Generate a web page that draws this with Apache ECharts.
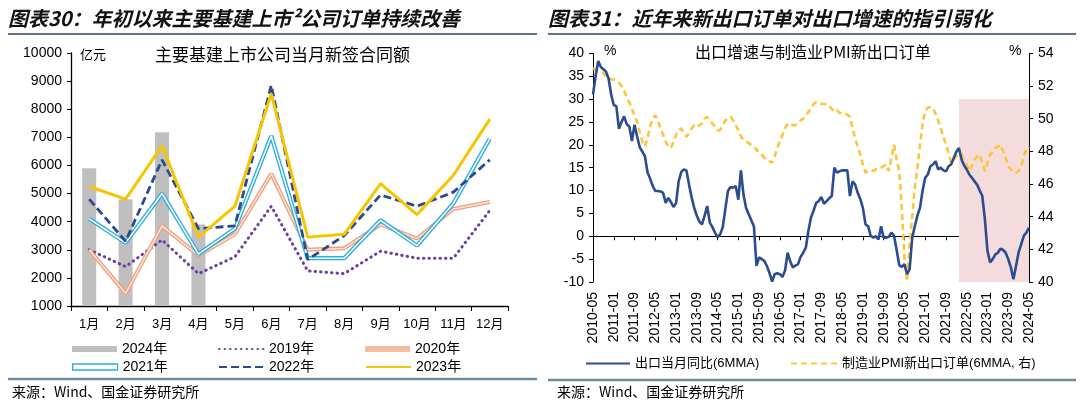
<!DOCTYPE html>
<html><head><meta charset="utf-8">
<script src="https://cdn.jsdelivr.net/npm/echarts@6/dist/echarts.min.js"></script>
<style>html,body{margin:0;padding:0;background:#fff}#c{width:1080px;height:403px}</style>
</head><body><div id="c"></div>
<script>
// ---------- left chart data ----------
const monthsCN = ['1月','2月','3月','4月','5月','6月','7月','8月','9月','10月','11月','12月'];
const y2024 = [5900, 4800, 7180, 3900, null, null, null, null, null, null, null, null];
const y2019 = [3000, 2400, 3350, 2150, 2750, 4550, 2250, 2150, 2950, 2700, 2700, 4400];
const y2020 = [3000, 1450, 3850, 2800, 3550, 5700, 3000, 3050, 3900, 3400, 4450, 4700];
const y2021 = [4100, 3250, 5000, 2850, 3750, 7050, 2700, 2700, 4050, 3150, 4650, 6950];
const y2022 = [4800, 3300, 6200, 3750, 3850, 8850, 2650, 3500, 4950, 4550, 5050, 6200];
const y2023 = [5250, 4800, 6700, 3450, 4550, 8550, 3450, 3550, 5350, 4250, 5650, 7650];
const leftYTicks = {min: 1000, max: 10000, interval: 1000};

// ---------- right chart data (monthly, 2010-05 .. 2024-05) ----------
const startYear = 2010, startMonth = 5, nMonths = 169;
const dates = [];
for (let i = 0; i < nMonths; i++) {
  const m = startMonth - 1 + i;
  const yy = startYear + Math.floor(m / 12), mm = (m % 12) + 1;
  dates.push(yy + '-' + (mm < 10 ? '0' + mm : mm));
}
const exportYoY = [
  31, 35, 38.3, 37, 36.5, 36, 34.5, 31, 28.7, 28.4,
  23.5, 25, 26.2, 24.5, 24, 20.8, 24.4, 21.8, 19.5, 18.5,
  17.5, 14, 12.6, 11, 9.9, 9.9, 9.8, 9.5, 7.3, 8.4,
  7.5, 6.4, 7.2, 12, 14, 14.6, 14.4, 11.3, 8.5, 6.2,
  4.5, 3.2, 2.6, 4.5, 6.6, 3, 2, 0.8, -0.2, 0.4,
  2, 6, 9.9, 10.8, 10.6, 11, 8, 14.4, 9, 6.2,
  4.8, 3.5, 2.2, -6.5, -4.6, -5, -5.4, -6.5, -8, -9.9,
  -8.3, -8.1, -8.3, -8.9, -7.5, -3.6, -5.5, -6.8, -6.4, -6.1,
  -4.5, -3.6, -2.5, 1.2, 4.1, 5.6, 7.3, 7.7, 8.6, 7.1,
  7.7, 8.3, 8.8, 15, 13.9, 14.2, 14.4, 14.4, 14.4, 8.8,
  12, 11.3, 9.5, 8.1, 6.2, 2.6, 2.2, 0.1, -0.3, 0,
  -0.7, 2.2, -0.4, -0.3, -0.1, 0.8, 0.1, -3, -6.3, -6.7,
  -6.1, -8.3, -7.2, -0.3, 2.2, 4.5, 6.2, 10, 12.8, 13.5,
  15.3, 15.7, 16.4, 14.6, 15, 14.4, 14.2, 15.3, 15.7, 17.1,
  18.5, 19.3, 16.8, 15.5, 14.6, 13.5, 12.8, 12, 11.3, 10,
  8.8, 3.7, -3.2, -5.7, -5, -4, -3.6, -2.7, -3, -3.6,
  -5, -6.8, -9.4, -6.5, -3.5, -1.7, 0.1, 0.8, 1.9
];
const pmiNewExport = [
  53.1, 53.0, 52.9, 52.85, 52.8, 52.6, 52.5, 52.4, 52.4, 52.3,
  52.2, 52.0, 51.7, 51.3, 51.0, 50.6, 50.2, 49.8, 49.2, 48.6,
  48.3, 48.8, 49.5, 50.0, 50.2, 49.9, 49.4, 49.0, 48.6, 48.3,
  48.2, 48.6, 49.0, 49.3, 49.4, 49.1, 48.9, 49.1, 49.4, 49.6,
  49.5, 49.6, 49.7, 50.0, 50.1, 49.9, 49.7, 49.5, 49.3, 49.3,
  49.6, 49.9, 50.0, 50.1, 49.9, 49.6, 49.3, 48.9, 48.7, 48.6,
  48.5, 48.4, 48.3, 48.1, 47.9, 47.8, 47.6, 47.5, 47.4, 47.3,
  47.7, 48.2, 48.6, 49.0, 49.4, 49.7, 49.7, 49.6, 49.6, 49.7,
  49.9, 50.0, 50.2, 50.4, 50.6, 50.9, 51.0, 50.95, 50.9, 50.9,
  50.87, 50.8, 50.6, 50.4, 50.5, 50.36, 50.3, 50.25, 50.25, 50.1,
  49.4, 48.8, 48.3, 47.8, 47.2, 46.7, 46.8, 46.8, 46.8, 46.9,
  46.9, 47.0, 47.1, 47.2, 46.8, 47.6, 48.4, 47.5, 46.8, 44.5,
  41.5, 40.05, 42.3, 44.0, 45.75, 47.0, 48.4, 49.7, 50.5, 50.66,
  50.7, 50.66, 50.3, 49.9, 49.4, 48.9, 48.4, 47.9, 47.3, 47.5,
  47.7, 47.8, 47.8, 47.4, 47.2, 46.8, 47.1, 47.5, 47.7, 47.8,
  47.3, 46.8, 47.3, 47.8, 48.0, 48.2, 48.3, 48.4, 48.0, 47.6,
  47.1, 46.9, 46.7, 46.7, 46.8, 47.1, 47.7, 48.1, 48.3
];
const shadeRange = ['2022-02', '2024-05'];
const shadeY = [-10, 30];

// ---------- styles ----------
const C = {
  bar: '#bfbfbf', p19: '#6b3fa0', s20: '#f0a07e', s20in: '#fbe3d6',
  c21: '#2aaee0', n22: '#2e4a8e', y23: '#f7c400',
  blue: '#2c4b90', yel: '#fcc53a', pink: '#f3dcdb'
};
const plainNum = v => String(v);
const axisTxt = {color: '#000', fontFamily: 'Liberation Sans, Arial, sans-serif', fontSize: 14};
const cjk = '"Noto Sans CJK SC", sans-serif';

const chart = echarts.init(document.getElementById('c'), null, {renderer: 'canvas'});

const legendBase = {
  itemWidth: 45, itemHeight: 6, itemGap: 4,
  textStyle: {color: '#000', fontSize: 14, fontFamily: 'Liberation Sans, ' + cjk},
  selectedMode: false, padding: 0
};
const noSym = {itemStyle: {opacity: 0}};
function lg(name, left, top, extra) {
  return Object.assign({}, legendBase, {data: [Object.assign({name: name}, extra || {})], left: left, top: top});
}

const option = {
  animation: false,
  backgroundColor: '#fff',
  grid: [
    {left: 71, top: 53, width: 437, height: 253, containLabel: false},
    {left: 593, top: 53.3, width: 436, height: 228.7, containLabel: false}
  ],
  xAxis: [
    {gridIndex: 0, type: 'category', data: monthsCN, boundaryGap: true,
     axisLine: {lineStyle: {color: '#000', width: 1.3}},
     axisTick: {show: true, alignWithLabel: false, length: 5, lineStyle: {color: '#000'}},
     axisLabel: Object.assign({}, axisTxt, {fontSize: 13, margin: 12, fontFamily: 'Liberation Sans, ' + cjk}),
     splitLine: {show: false}},
    {gridIndex: 1, type: 'category', data: dates, boundaryGap: false, position: 'bottom',
     axisLine: {onZero: true, lineStyle: {color: '#000', width: 1}},
     axisTick: {show: true, interval: 7, length: 4, lineStyle: {color: '#000'}},
     axisLabel: {show: false}, splitLine: {show: false}},
    {gridIndex: 1, type: 'category', data: dates, boundaryGap: false, position: 'bottom',
     axisLine: {show: false, onZero: false}, axisTick: {show: false},
     axisLabel: Object.assign({}, axisTxt, {fontSize: 14, rotate: 90, interval: 7, margin: 10}),
     splitLine: {show: false}}
  ],
  yAxis: [
    {gridIndex: 0, type: 'value', min: leftYTicks.min, max: leftYTicks.max, interval: leftYTicks.interval,
     axisLine: {show: true, lineStyle: {color: '#000', width: 1.3}},
     axisTick: {show: true, length: 4, lineStyle: {color: '#000'}},
     axisLabel: Object.assign({}, axisTxt, {margin: 9, formatter: plainNum}), splitLine: {show: false}},
    {gridIndex: 1, type: 'value', min: -10, max: 40, interval: 5, position: 'left',
     axisLine: {show: true, onZero: false, lineStyle: {color: '#000', width: 1}},
     axisTick: {show: true, length: 4, lineStyle: {color: '#000'}},
     axisLabel: Object.assign({}, axisTxt, {margin: 9, formatter: plainNum}), splitLine: {show: false}},
    {gridIndex: 1, type: 'value', min: 40, max: 54, interval: 2, position: 'right',
     axisLine: {show: true, onZero: false, lineStyle: {color: '#000', width: 1}},
     axisTick: {show: true, length: 4, lineStyle: {color: '#000'}},
     axisLabel: Object.assign({}, axisTxt, {margin: 9, formatter: plainNum}), splitLine: {show: false}}
  ],
  legend: [
    lg('2024年', 72, 342, {icon: 'rect', itemStyle: {color: C.bar}}),
    lg('2019年', 218, 342, noSym),
    lg('2020年', 365, 342, {icon: 'rect', itemStyle: {color: '#f4bca3'}}),
    lg('2021年', 72, 360, {icon: 'rect', itemStyle: {color: '#fff', borderColor: C.c21, borderWidth: 1.3}}),
    lg('2022年', 218, 360, noSym),
    lg('2023年', 365, 360, noSym),
    Object.assign({}, legendBase, {data: [Object.assign({name: '出口当月同比(6MMA)'}, noSym)], left: 585, top: 357, itemWidth: 44,
      textStyle: {color: '#000', fontSize: 13, fontFamily: 'Liberation Sans, ' + cjk}}),
    Object.assign({}, legendBase, {data: [Object.assign({name: '制造业PMI新出口订单(6MMA, 右)'}, noSym)], left: 790, top: 357, itemWidth: 46,
      textStyle: {color: '#000', fontSize: 13, fontFamily: 'Liberation Sans, ' + cjk}})
  ],
  series: [
    {name: '2024年', type: 'bar', xAxisIndex: 0, yAxisIndex: 0, data: y2024, barWidth: 14,
     itemStyle: {color: C.bar}, z: 1},
    {name: '2019年', type: 'line', xAxisIndex: 0, yAxisIndex: 0, data: y2019, symbol: 'none',
     lineStyle: {color: C.p19, width: 3, type: [0.5, 5], cap: 'round'}, itemStyle: {color: C.p19}, z: 2},
    {name: '2020年', type: 'line', xAxisIndex: 0, yAxisIndex: 0, data: y2020, symbol: 'none',
     lineStyle: {color: C.s20, width: 4}, itemStyle: {color: C.s20}, z: 3},
    {name: '2020in', type: 'line', xAxisIndex: 0, yAxisIndex: 0, data: y2020, symbol: 'none',
     lineStyle: {color: C.s20in, width: 1.4}, z: 3},
    {name: '2021年', type: 'line', xAxisIndex: 0, yAxisIndex: 0, data: y2021, symbol: 'none',
     lineStyle: {color: C.c21, width: 4.2}, itemStyle: {color: C.c21}, z: 4},
    {name: '2021in', type: 'line', xAxisIndex: 0, yAxisIndex: 0, data: y2021, symbol: 'none',
     lineStyle: {color: '#ffffff', width: 1.5}, z: 4},
    {name: '2022年', type: 'line', xAxisIndex: 0, yAxisIndex: 0, data: y2022, symbol: 'none',
     lineStyle: {color: C.n22, width: 2.8, type: [8, 4]}, itemStyle: {color: C.n22}, z: 5},
    {name: '2023年', type: 'line', xAxisIndex: 0, yAxisIndex: 0, data: y2023, symbol: 'none',
     lineStyle: {color: C.y23, width: 3}, itemStyle: {color: C.y23}, z: 6},

    {name: 'shade', type: 'line', xAxisIndex: 1, yAxisIndex: 1, data: [], symbol: 'none', z: 1,
     markArea: {silent: true, itemStyle: {color: C.pink},
       data: [[{xAxis: shadeRange[0], yAxis: shadeY[0]}, {xAxis: shadeRange[1], yAxis: shadeY[1]}]]}},
    {name: '出口当月同比(6MMA)', type: 'line', xAxisIndex: 1, yAxisIndex: 1, data: exportYoY, symbol: 'none',
     lineStyle: {color: C.blue, width: 2.6}, itemStyle: {color: C.blue}, z: 4},
    {name: '制造业PMI新出口订单(6MMA, 右)', type: 'line', xAxisIndex: 1, yAxisIndex: 2, data: pmiNewExport, symbol: 'none',
     lineStyle: {color: C.yel, width: 2.6, type: [6, 4]}, itemStyle: {color: C.yel}, z: 3}
  ],
  graphic: [
    {type: 'text', left: 8, top: 8, style: {text: '图表30：年初以来主要基建上市²公司订单持续改善',
      font: 'italic bold 20px ' + cjk, fill: '#111'}},
    {type: 'text', left: 548, top: 8, style: {text: '图表31：近年来新出口订单对出口增速的指引弱化',
      font: 'italic bold 20px ' + cjk, fill: '#111'}},
    {type: 'line', shape: {x1: 8, y1: 34, x2: 537, y2: 34}, style: {stroke: '#2b4560', lineWidth: 1.5}},
    {type: 'line', shape: {x1: 548, y1: 34, x2: 1076, y2: 34}, style: {stroke: '#2b4560', lineWidth: 1.5}},
    {type: 'line', shape: {x1: 8, y1: 379, x2: 537, y2: 379}, style: {stroke: '#6d8aa2', lineWidth: 2.5}},
    {type: 'line', shape: {x1: 548, y1: 380, x2: 1076, y2: 380}, style: {stroke: '#6d8aa2', lineWidth: 2.5}},
    {type: 'text', left: 80, top: 48, style: {text: '亿元', font: '13px ' + cjk, fill: '#000'}},
    {type: 'text', left: 155, top: 46, style: {text: '主要基建上市公司当月新签合同额', font: '17px ' + cjk, fill: '#000'}},
    {type: 'text', left: 604, top: 44, style: {text: '%', font: '14px Liberation Sans, sans-serif', fill: '#000'}},
    {type: 'text', left: 1009, top: 44, style: {text: '%', font: '14px Liberation Sans, sans-serif', fill: '#000'}},
    {type: 'text', left: 695, top: 44, style: {text: '出口增速与制造业PMI新出口订单', font: '16px ' + cjk, fill: '#000'}},
    {type: 'text', left: 12, top: 385, style: {text: '来源：Wind、国金证券研究所', font: '14px ' + cjk, fill: '#000'}},
    {type: 'text', left: 557, top: 385, style: {text: '来源：Wind、国金证券研究所', font: '14px ' + cjk, fill: '#000'}}
  ]
};
chart.setOption(option);
</script></body></html>
